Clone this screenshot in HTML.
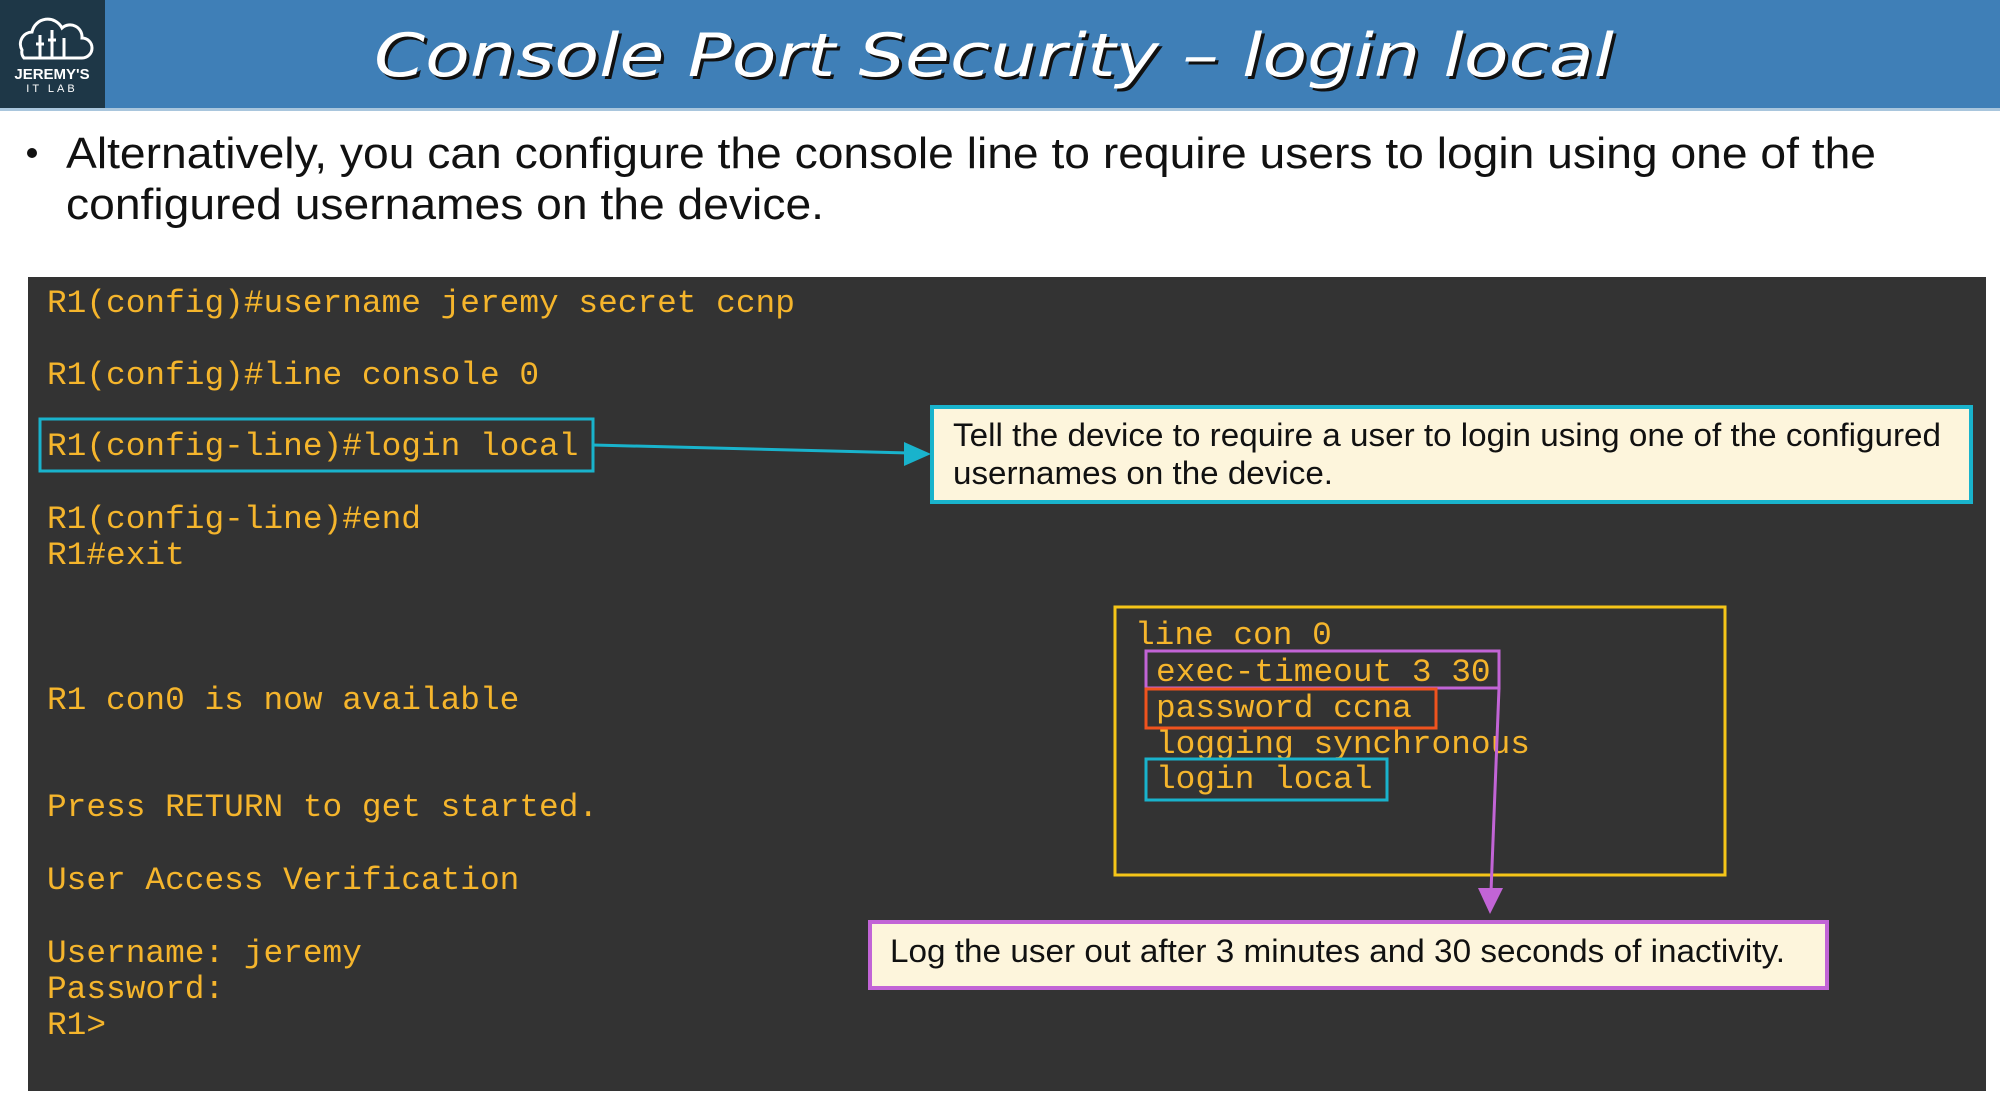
<!DOCTYPE html>
<html><head><meta charset="utf-8"><style>html,body{margin:0;padding:0;background:#fff}svg{display:block}</style></head>
<body>
<svg width="2000" height="1101" viewBox="0 0 2000 1101" xmlns="http://www.w3.org/2000/svg">
<rect width="2000" height="1101" fill="#fff"/>
<rect x="0" y="0" width="2000" height="108" fill="#3f7fb7"/>
<rect x="0" y="108" width="2000" height="3" fill="#a9c6dd"/>
<rect x="0" y="0" width="105" height="108" fill="#1e3747"/>
<g fill="none" stroke="#fff" stroke-width="3">
<path d="M22 50 a12 12 0 0 1 10-18 a16 16 0 0 1 30-4 a12 12 0 0 1 20 10 a10 10 0 0 1 0 20 h-58 a9 9 0 0 1-2-8z"/>
<path d="M40 35 v22 M52 30 v27 M64 38 v19 M36 44 h8 M48 40 h8"/>
</g>
<text x="52" y="79" font-family="Liberation Sans, sans-serif" font-size="15" font-weight="bold" fill="#fff" text-anchor="middle">JEREMY'S</text>
<text x="52" y="92" font-family="Liberation Sans, sans-serif" font-size="11" fill="#fff" text-anchor="middle" letter-spacing="3">IT LAB</text>
<text x="374" y="76" font-family="DejaVu Sans, sans-serif" font-style="italic" font-size="60" fill="#111" textLength="1240" lengthAdjust="spacingAndGlyphs" dx="3" dy="3">Console Port Security – login local</text>
<text x="374" y="76" font-family="DejaVu Sans, sans-serif" font-style="italic" font-size="60" fill="#fff" textLength="1240" lengthAdjust="spacingAndGlyphs">Console Port Security – login local</text>

<circle cx="32" cy="153" r="5" fill="#111"/>
<g font-family="Liberation Sans, sans-serif" font-size="44" fill="#111">
<text x="66" y="168" textLength="1810" lengthAdjust="spacingAndGlyphs">Alternatively, you can configure the console line to require users to login using one of the</text>
<text x="66" y="219" textLength="758" lengthAdjust="spacingAndGlyphs">configured usernames on the device.</text>
</g>

<rect x="28" y="277" width="1958" height="814" fill="#333333"/>
<g font-family="Liberation Mono, DejaVu Sans Mono, monospace" font-size="32.8" fill="#f5b52c">
<text x="47" y="312">R1(config)#username jeremy secret ccnp</text>
<text x="47" y="384">R1(config)#line console 0</text>
<text x="47" y="455">R1(config-line)#login local</text>
<text x="47" y="528">R1(config-line)#end</text>
<text x="47" y="564">R1#exit</text>
<text x="47" y="709">R1 con0 is now available</text>
<text x="47" y="816">Press RETURN to get started.</text>
<text x="47" y="889">User Access Verification</text>
<text x="47" y="962">Username: jeremy</text>
<text x="47" y="998">Password:</text>
<text x="47" y="1034">R1&gt;</text>
<text x="1135" y="644">line con 0</text>
<text x="1156" y="681">exec-timeout 3 30</text>
<text x="1156" y="717">password ccna</text>
<text x="1156" y="753">logging synchronous</text>
<text x="1156" y="788">login local</text>
</g>
<rect x="40" y="419" width="553" height="52" fill="none" stroke="#19b3cc" stroke-width="3"/>
<line x1="593" y1="445" x2="910" y2="453" stroke="#19b3cc" stroke-width="3"/>
<polygon points="931,454 904,442 904,466" fill="#19b3cc"/>
<rect x="932" y="407" width="1039" height="95" fill="#fdf5dc" stroke="#19b3cc" stroke-width="4"/>
<g font-family="Liberation Sans, sans-serif" font-size="32" fill="#111">
<text x="953" y="446" textLength="988" lengthAdjust="spacingAndGlyphs">Tell the device to require a user to login using one of the configured</text>
<text x="953" y="484" textLength="380" lengthAdjust="spacingAndGlyphs">usernames on the device.</text>
</g>
<rect x="1115" y="607" width="610" height="268" fill="none" stroke="#f5c518" stroke-width="3"/>
<rect x="1146" y="651" width="353" height="37" fill="none" stroke="#c264d6" stroke-width="3"/>
<rect x="1146" y="689" width="290" height="39" fill="none" stroke="#f0531e" stroke-width="3"/>
<rect x="1146" y="759" width="241" height="41" fill="none" stroke="#19b3cc" stroke-width="3"/>
<line x1="1499" y1="688" x2="1491" y2="892" stroke="#c264d6" stroke-width="3"/>
<polygon points="1490,914 1478,888 1503,888" fill="#c264d6"/>
<rect x="870" y="922" width="957" height="66" fill="#fdf5dc" stroke="#c264d6" stroke-width="4"/>
<text x="890" y="962" font-family="Liberation Sans, sans-serif" font-size="32" fill="#111" textLength="895" lengthAdjust="spacingAndGlyphs">Log the user out after 3 minutes and 30 seconds of inactivity.</text>
</svg>
</body></html>
